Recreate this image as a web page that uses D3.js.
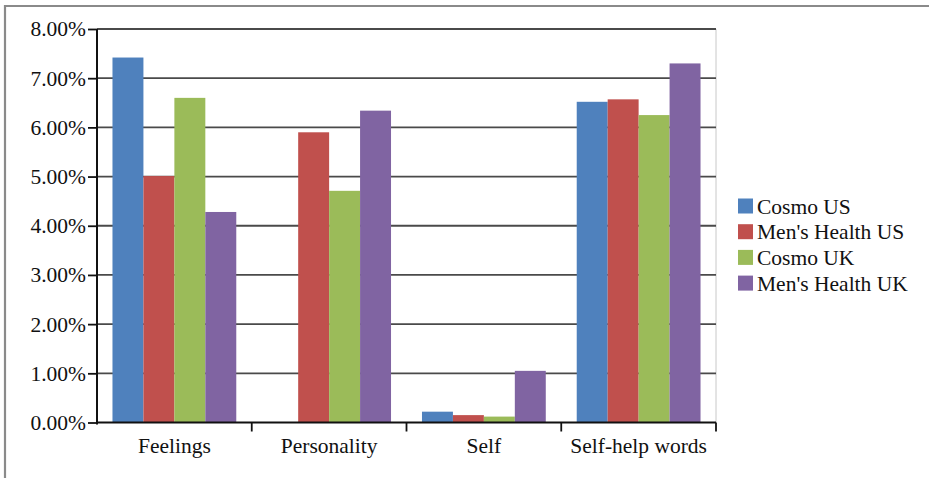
<!DOCTYPE html>
<html>
<head>
<meta charset="utf-8">
<script src="https://cdn.jsdelivr.net/npm/d3@7"></script>
<style>
  html, body { margin: 0; padding: 0; background: #fff; }
  svg { display: block; }
  text { font-family: "Liberation Serif", "Times New Roman", serif; fill: #111; }
</style>
</head>
<body>
<svg id="chart" width="929" height="478"></svg>
<script>
const categories = ["Feelings", "Personality", "Self", "Self-help words"];
const seriesNames = ["Cosmo US", "Men's Health US", "Cosmo UK", "Men's Health UK"];
const cosmoUS = [7.42, 0, 0.22, 6.52];
const mensHealthUS = [5.01, 5.90, 0.15, 6.57];
const cosmoUK = [6.60, 4.71, 0.12, 6.25];
const mensHealthUK = [4.28, 6.34, 1.05, 7.30];
const yTicks = [0, 1, 2, 3, 4, 5, 6, 7, 8];
const colors = ["#4F81BD", "#C0504D", "#9BBB59", "#8064A2"];

const seriesValues = [cosmoUS, mensHealthUS, cosmoUK, mensHealthUK];

const svg = d3.select("#chart");
const plotL = 97, plotR = 716, plotT = 29, plotB = 422.5;
const fs = 21.5;

// outer frame (top and left)
svg.append("line").attr("x1", 5).attr("x2", 929).attr("y1", 6).attr("y2", 6)
  .attr("stroke", "#8a8a8a").attr("stroke-width", 2.2);
svg.append("line").attr("x1", 5).attr("x2", 5).attr("y1", 5).attr("y2", 478)
  .attr("stroke", "#8a8a8a").attr("stroke-width", 2.2);

const x0 = d3.scaleBand().domain(categories).range([plotL, plotR])
  .paddingInner(0.2).paddingOuter(0.1);
const x1 = d3.scaleBand().domain(seriesNames).range([0, x0.bandwidth()]);
const y = d3.scaleLinear().domain([0, 8]).range([plotB, plotT]);

// right border of plot
svg.append("line").attr("x1", plotR).attr("x2", plotR).attr("y1", plotT).attr("y2", plotB)
  .attr("stroke", "#c8c8c8").attr("stroke-width", 1);

// gridlines
svg.append("g").selectAll("line").data(yTicks.filter(d => d > 0)).join("line")
  .attr("x1", plotL).attr("x2", plotR)
  .attr("y1", d => y(d)).attr("y2", d => y(d))
  .attr("stroke", "#4a4a4a").attr("stroke-width", 1.8);

// bars
const groups = svg.append("g").selectAll("g").data(categories).join("g")
  .attr("transform", c => `translate(${x0(c)},0)`);
groups.selectAll("rect")
  .data((c, i) => seriesNames.map((s, j) => ({ s, j, v: seriesValues[j][i] })))
  .join("rect")
  .attr("x", d => x1(d.s))
  .attr("width", x1.bandwidth())
  .attr("y", d => y(d.v))
  .attr("height", d => y(0) - y(d.v))
  .attr("fill", d => colors[d.j]);

// y axis
const yAxis = d3.axisLeft(y).tickValues(yTicks).tickSize(9).tickPadding(2)
  .tickFormat(d => d3.format(".2f")(d) + "%");
const gy = svg.append("g").attr("transform", `translate(${plotL},0)`).call(yAxis);
gy.select(".domain").attr("stroke", "#111").attr("stroke-width", 2)
  .attr("d", `M0,${plotT}V${plotB + 2}`);
gy.selectAll(".tick line").attr("stroke", "#111").attr("stroke-width", 1.8);
gy.selectAll(".tick text").attr("font-size", fs)
  .style("font-family", '"Liberation Serif", serif').attr("fill", "#111");

// x axis
const boundaries = [1, 2, 3, 4].map(i => plotL + (plotR - plotL) * i / 4);
svg.append("line").attr("x1", plotL).attr("x2", plotR).attr("y1", plotB).attr("y2", plotB)
  .attr("stroke", "#111").attr("stroke-width", 2);
svg.append("g").selectAll("line").data(boundaries).join("line")
  .attr("x1", d => d).attr("x2", d => d)
  .attr("y1", plotB).attr("y2", plotB + 9)
  .attr("stroke", "#111").attr("stroke-width", 1.8);
svg.append("g").selectAll("text").data(categories).join("text")
  .attr("x", c => x0(c) + x0.bandwidth() / 2)
  .attr("y", 453)
  .attr("text-anchor", "middle")
  .attr("font-size", fs)
  .text(c => c);

// legend
const lg = svg.append("g").selectAll("g").data(seriesNames).join("g")
  .attr("transform", (d, i) => `translate(738,${206 + i * 25.7})`);
lg.append("rect").attr("x", 0).attr("y", -7.5).attr("width", 15).attr("height", 15)
  .attr("fill", (d, i) => colors[i]);
lg.append("text").attr("x", 19).attr("y", 7.5).attr("font-size", fs).text(d => d);
</script>
</body>
</html>
